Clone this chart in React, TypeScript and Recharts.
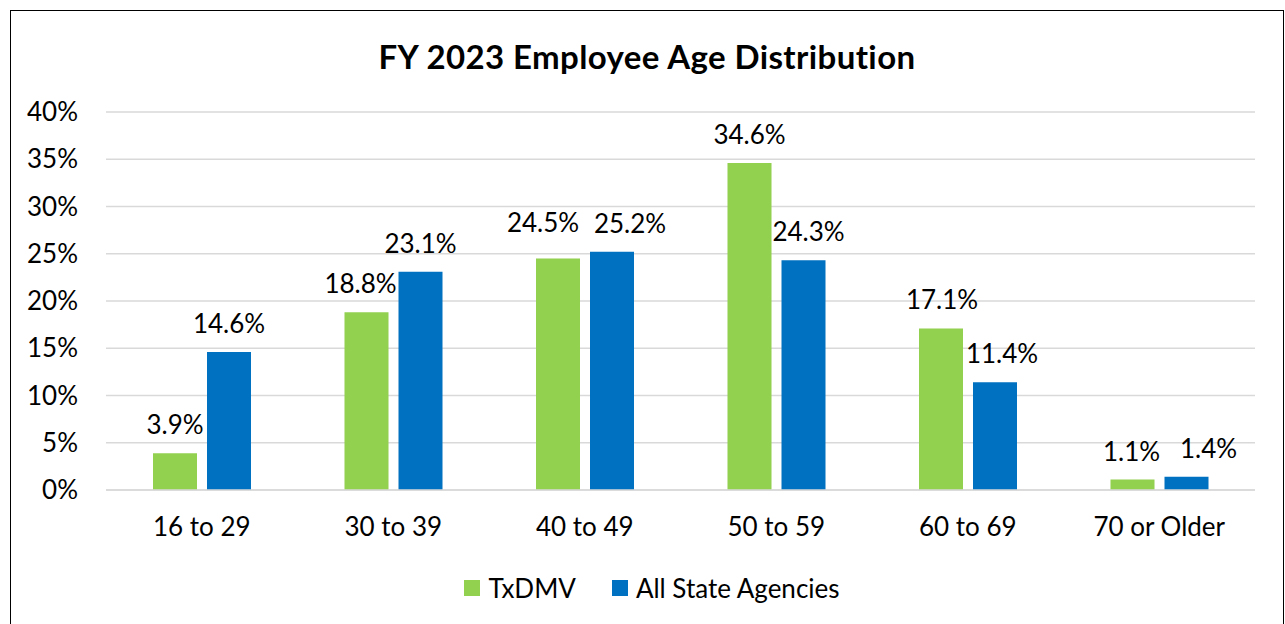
import React from "react";
import { BarChart, Bar, XAxis, YAxis, CartesianGrid, Legend, LabelList } from "recharts";

const categories = ["16 to 29", "30 to 39", "40 to 49", "50 to 59", "60 to 69", "70 or Older"];
const txdmv = [3.9, 18.8, 24.5, 34.6, 17.1, 1.1];
const allAgencies = [14.6, 23.1, 25.2, 24.3, 11.4, 1.4];
const yTicks = [0, 5, 10, 15, 20, 25, 30, 35, 40];
const seriesNames = ["TxDMV", "All State Agencies"];
const colors = ["#92D050", "#0070C0"];
const title = "FY 2023 Employee Age Distribution";

// label nudges (style only) to mimic the reference's collision avoidance
const txLabelDx = [0, -6, -15, 0, 1, -1];
const txLabelDy = [0, 0, -7, 0, 0, 0];
const allLabelDx = [0, 0, 18, 5, 7, 22];
const allLabelDy = [0, 0, 0, 0, 0, 0];

const data = categories.map((c, i) => ({ name: c, txdmv: txdmv[i], all: allAgencies[i] }));

const FONT = "Lato, 'Open Sans', sans-serif";

const renderLegend = () => (
  <div style={{ display: "flex", justifyContent: "center", alignItems: "center", fontFamily: FONT, fontSize: 26, color: "#000", paddingLeft: 19 }}>
    {seriesNames.map((n, i) => (
      <div key={n} style={{ display: "flex", alignItems: "center", marginRight: i === 0 ? 36 : 0 }}>
        <div style={{ width: 16, height: 16, background: colors[i], marginRight: 8 }} />
        <span>{n}</span>
      </div>
    ))}
  </div>
);

const makeLabel = (dxs: number[], dys: number[]) => (props: any) => {
  const { x, y, width, value, index } = props;
  const cx = Number(x) + Number(width) / 2 + (dxs[index] || 0);
  const by = Number(y) - 19 + (dys[index] || 0);
  return (
    <text x={cx} y={by} textAnchor="middle" fontFamily={FONT} fontSize={26} fill="#000">
      {`${Number(value).toFixed(1)}%`}
    </text>
  );
};

export default function App() {
  return (
    <div style={{ position: "absolute", left: 0, top: 0, width: 1285, height: 624, background: "#fff", overflow: "hidden" }}>
      <div style={{ position: "absolute", left: 10, top: 10, width: 1272, height: 640, border: "1px solid #000" }} />
      <div style={{ position: "absolute", left: 0, top: 0 }}>
        <BarChart
          width={1285}
          height={624}
          data={data}
          margin={{ top: 112, right: 30, left: 0, bottom: 0 }}
          barSize={44}
          barGap={10}
        >
          <text x={647} y={56} textAnchor="middle" dominantBaseline="central" fontFamily={FONT} fontWeight="bold" fontSize={33} letterSpacing={0.4} fill="#000">
            {title}
          </text>
          <CartesianGrid vertical={false} stroke="#D9D9D9" strokeWidth={1.5} />
          <XAxis
            dataKey="name"
            height={134}
            tickLine={false}
            tickSize={0}
            tickMargin={28}
            axisLine={{ stroke: "#D9D9D9", strokeWidth: 1.5 }}
            tick={{ fontFamily: FONT, fontSize: 26, fill: "#000" }}
            interval={0}
          />
          <YAxis
            width={106}
            domain={[0, 40]}
            ticks={yTicks}
            tickFormatter={(v: number) => `${v}%`}
            tickLine={false}
            tickSize={0}
            tickMargin={28}
            axisLine={false}
            tick={{ fontFamily: FONT, fontSize: 26, fill: "#000" }}
            interval={0}
          />
          <Legend
            layout="horizontal"
            verticalAlign="middle"
            align="center"
            content={renderLegend}
            wrapperStyle={{ position: "absolute", top: 572, left: 0, width: 1285 }}
          />
          <Bar dataKey="txdmv" name={seriesNames[0]} fill={colors[0]} isAnimationActive={false}>
            <LabelList dataKey="txdmv" content={makeLabel(txLabelDx, txLabelDy)} />
          </Bar>
          <Bar dataKey="all" name={seriesNames[1]} fill={colors[1]} isAnimationActive={false}>
            <LabelList dataKey="all" content={makeLabel(allLabelDx, allLabelDy)} />
          </Bar>
        </BarChart>
      </div>
    </div>
  );
}
